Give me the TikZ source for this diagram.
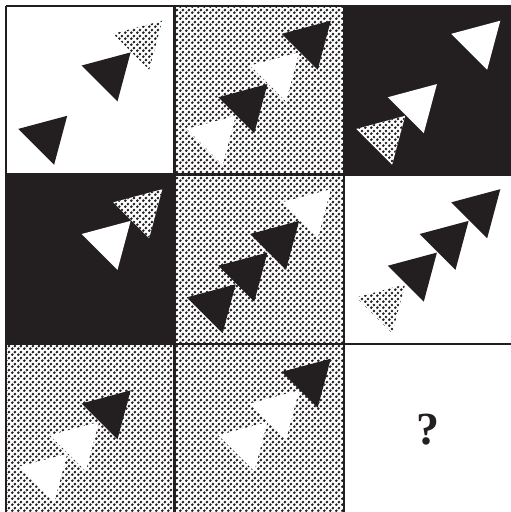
\documentclass[tikz,border=0pt]{standalone}
\usepackage{fontspec}
\setmainfont{Liberation Serif}
\usetikzlibrary{patterns}
\definecolor{ink}{HTML}{231F20}
\pgfdeclarepatternformonly{mydots}{\pgfpointorigin}{\pgfpoint{5.6pt}{5.6pt}}{\pgfpoint{5.6pt}{5.6pt}}{%
  \pgfpathcircle{\pgfpoint{1.4pt}{1.4pt}}{1.55pt}%
  \pgfpathcircle{\pgfpoint{4.2pt}{4.2pt}}{1.55pt}%
  \pgfpathcircle{\pgfpoint{4.2pt}{-1.4pt}}{1.55pt}%
  \pgfpathcircle{\pgfpoint{-1.4pt}{4.2pt}}{1.55pt}%
  \pgfusepath{fill}}
\newcommand{\tri}[4]{\pic at ({#1+40.5+31.7*#3},{#2+130.5-31.7*#3}) {#4};}
\begin{document}
\begin{tikzpicture}[x=1pt,y=-1pt,
  trishape/.style={insert path={(-45:29.3) -- (-165:29.3) -- (75:29.3) -- cycle}},
  blk/.pic={\fill[ink, trishape];},
  wht/.pic={\fill[white, trishape];},
  dts/.pic={\fill[white, trishape]; \fill[pattern=mydots, pattern color=ink, trishape];},
  dotbg/.style={preaction={fill=white}, pattern=mydots, pattern color=ink},
  blkbg/.style={fill=ink},
  gridline/.style={draw=ink, line width=2.8pt}]
\useasboundingbox (0,0) rectangle (511,512);
\clip (0,0) rectangle (511,512);
\fill[white] (0,0) rectangle (511,512);
% cell backgrounds
\path[dotbg] (174.5,6) rectangle (344,174.5);
\path[blkbg] (344,6) rectangle (514,174.5);
\path[blkbg] (6,174.5) rectangle (174.5,344);
\path[dotbg] (174.5,174.5) rectangle (344,344);
\path[dotbg] (6,344) rectangle (174.5,514);
\path[dotbg] (174.5,344) rectangle (344,514);
% row 1
\tri{6}{6}{0}{blk}\tri{6}{6}{2}{blk}\tri{6}{6}{3}{dts}
\tri{174.5}{6}{0}{wht}\tri{174.5}{6}{1}{blk}\tri{174.5}{6}{2}{wht}\tri{174.5}{6}{3}{blk}
\tri{344}{6}{0}{dts}\tri{344}{6}{1}{wht}\tri{344}{6}{3}{wht}
% row 2
\tri{6}{174.5}{2}{wht}\tri{6}{174.5}{3}{dts}
\tri{174.5}{174.5}{0}{blk}\tri{174.5}{174.5}{1}{blk}\tri{174.5}{174.5}{2}{blk}\tri{174.5}{174.5}{3}{wht}
\tri{344}{174.5}{0}{dts}\tri{344}{174.5}{1}{blk}\tri{344}{174.5}{2}{blk}\tri{344}{174.5}{3}{blk}
% row 3
\tri{6}{344}{0}{wht}\tri{6}{344}{1}{wht}\tri{6}{344}{2}{blk}
\tri{174.5}{344}{1}{wht}\tri{174.5}{344}{2}{wht}\tri{174.5}{344}{3}{blk}
\node[inner sep=0pt, text=ink, font=\bfseries\fontsize{46}{46}\selectfont] (q) at (427.5,429.7) {?};
% grid lines
\foreach \v in {6,174.5,344}{
  \path[gridline] (\v,6) -- (\v,514);
  \path[gridline] (6,\v) -- (514,\v);
}
\end{tikzpicture}
\end{document}
